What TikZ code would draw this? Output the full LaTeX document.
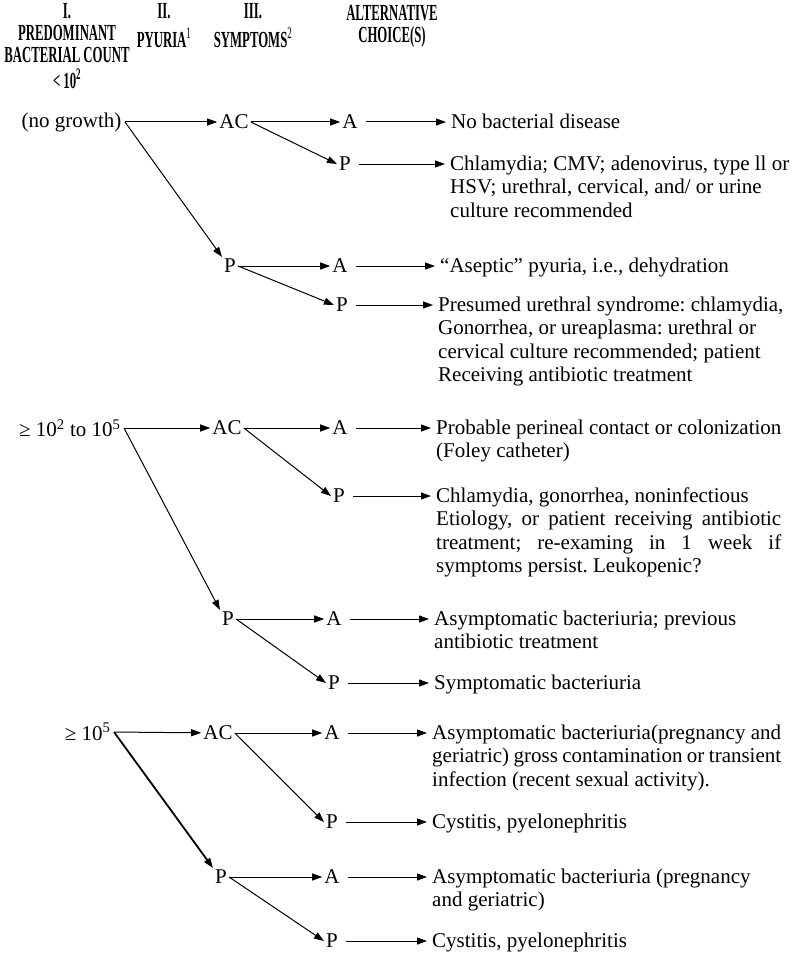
\documentclass[tikz,border=0pt]{standalone}
\usepackage{fontspec}
\setmainfont{Liberation Serif}
\frenchspacing
\usetikzlibrary{arrows.meta}
\tikzset{
	lbl/.style={inner sep=2pt},
	choice/.style={anchor=north west, inner sep=0pt, align=left},
	arr/.style={-{Triangle[length=10pt,width=7pt]}, line width=1pt},
	toend/.style={arr, shorten <=6pt, shorten >=5pt},
	head/.style={font=\bfseries\fontsize{23}{22}\selectfont}
}
\newcommand{\hcol}[1]{\scalebox{0.555}[1]{\begin{tabular}{@{}c@{}}#1\end{tabular}}}
\begin{document}
\begin{tikzpicture}[x=1pt,y=-1pt,font=\fontsize{21}{23.5}\selectfont]
	\useasboundingbox (0,0) rectangle (804,955);
	% headings
	\node[head] (h1) at (67,49) {\hcol{I.\\PREDOMINANT\\BACTERIAL COUNT\\< 10\textsuperscript{2}}};
	\node[head] (h2) at (164,28.5) {\hcol{II.\\[3pt]PYURIA\textsuperscript{\mdseries 1}}};
	\node[head] (h3) at (253,28.5) {\hcol{III.\\[3pt]SYMPTOMS\textsuperscript{\mdseries 2}}};
	\node[head] (h4) at (392,27) {\hcol{ALTERNATIVE\\CHOICE(S)}};
	% < 10^2
	\node[anchor=east] (ng) at (125,122) {(no growth)};
	\node[lbl] (ac1) at (234,122) {AC};
	\node[lbl] (p1) at (230,266) {P};
	\node[lbl] (a11) at (350,122) {A};
	\node[lbl] (p12) at (345,164) {P};
	\node[lbl] (a13) at (340,266) {A};
	\node[lbl] (p14) at (342,305) {P};
	\node[choice] (t11) at (451,111.5) {\strut No bacterial disease};
	\node[choice] (t12) at (450,153.5) {\strut Chlamydia; CMV; adenovirus, type ll or\\HSV; urethral, cervical, and/ or urine\\culture recommended};
	\node[choice] (t13) at (440,255.5) {\strut “Aseptic” pyuria, i.e., dehydration};
	\node[choice] (t14) at (438,294.5) {\strut Presumed urethral syndrome: chlamydia,\\Gonorrhea, or ureaplasma: urethral or\\cervical culture recommended; patient\\Receiving antibiotic treatment};
	% 10^2 to 10^5
	\node[anchor=east] (mid) at (124,428) {≥ 10\textsuperscript{2} to 10\textsuperscript{5}};
	\node[lbl] (ac2) at (227,428) {AC};
	\node[lbl] (p2) at (228,619) {P};
	\node[lbl] (a21) at (340,428) {A};
	\node[lbl] (p22) at (339,496) {P};
	\node[lbl] (a23) at (334,619) {A};
	\node[lbl] (p24) at (334,683) {P};
	\node[choice] (t21) at (436,417.5) {\strut Probable perineal contact or colonization\\(Foley catheter)};
	\node[choice] (t22) at (436,485.5) {\strut Chlamydia, gonorrhea, noninfectious\\\makebox[345pt][s]{Etiology, or patient receiving antibiotic}\\\makebox[345pt][s]{treatment; re-examing in 1 week if}\\symptoms persist. Leukopenic?};
	\node[choice] (t23) at (434,608.5) {\strut Asymptomatic bacteriuria; previous\\antibiotic treatment};
	\node[choice] (t24) at (434,672.5) {\strut Symptomatic bacteriuria};
	% >= 10^5
	\node[anchor=east] (hi) at (114,732) {≥ 10\textsuperscript{5}};
	\node[lbl] (ac3) at (218,733) {AC};
	\node[lbl] (p3) at (221,877) {P};
	\node[lbl] (a31) at (332,733) {A};
	\node[lbl] (p32) at (332,822) {P};
	\node[lbl] (a33) at (332,877) {A};
	\node[lbl] (p34) at (332,941) {P};
	\node[choice] (t31) at (432,722.5) {\strut\makebox[349pt][s]{Asymptomatic bacteriuria(pregnancy and}\\\makebox[349pt][s]{geriatric) gross contamination or transient}\\infection (recent sexual activity).};
	\node[choice] (t32) at (432,811.5) {\strut Cystitis, pyelonephritis};
	\node[choice] (t33) at (432,866.5) {\strut Asymptomatic bacteriuria (pregnancy\\and geriatric)};
	\node[choice] (t34) at (432,930.5) {\strut Cystitis, pyelonephritis};
	% connectors
	\draw[arr] (ng.east) -- (ac1);
	\draw[arr] (ng.east) -- (p1.north west);
	\draw[arr] (ac1) -- (a11);
	\draw[arr] (ac1.east) -- (p12.west);
	\draw[arr] (p1) -- (a13);
	\draw[arr] (p1.east) -- (p14.west);
	\draw[arr] (mid.east) -- (ac2);
	\draw[arr] (mid.east) -- (p2.north west);
	\draw[arr] (ac2) -- (a21);
	\draw[arr] (ac2.east) -- (p22.west);
	\draw[arr] (p2) -- (a23);
	\draw[arr] (p2.east) -- (p24.west);
	\draw[arr] (hi.east) -- (ac3);
	\draw[arr, line width=1.8pt] (hi.east) -- (p3.north west);
	\draw[arr] (ac3) -- (a31);
	\draw[arr] (ac3.east) -- (p32.west);
	\draw[arr] (p3) -- (a33);
	\draw[arr] (p3.east) -- (p34.west);
	\foreach \s/\t in {a11/t11, p12/t12, a13/t13, p14/t14, a21/t21, p22/t22, a23/t23, p24/t24, a31/t31, p32/t32, a33/t33, p34/t34}
		\draw[toend] (\s) -- (\s -| \t.west);
\end{tikzpicture}
\end{document}
